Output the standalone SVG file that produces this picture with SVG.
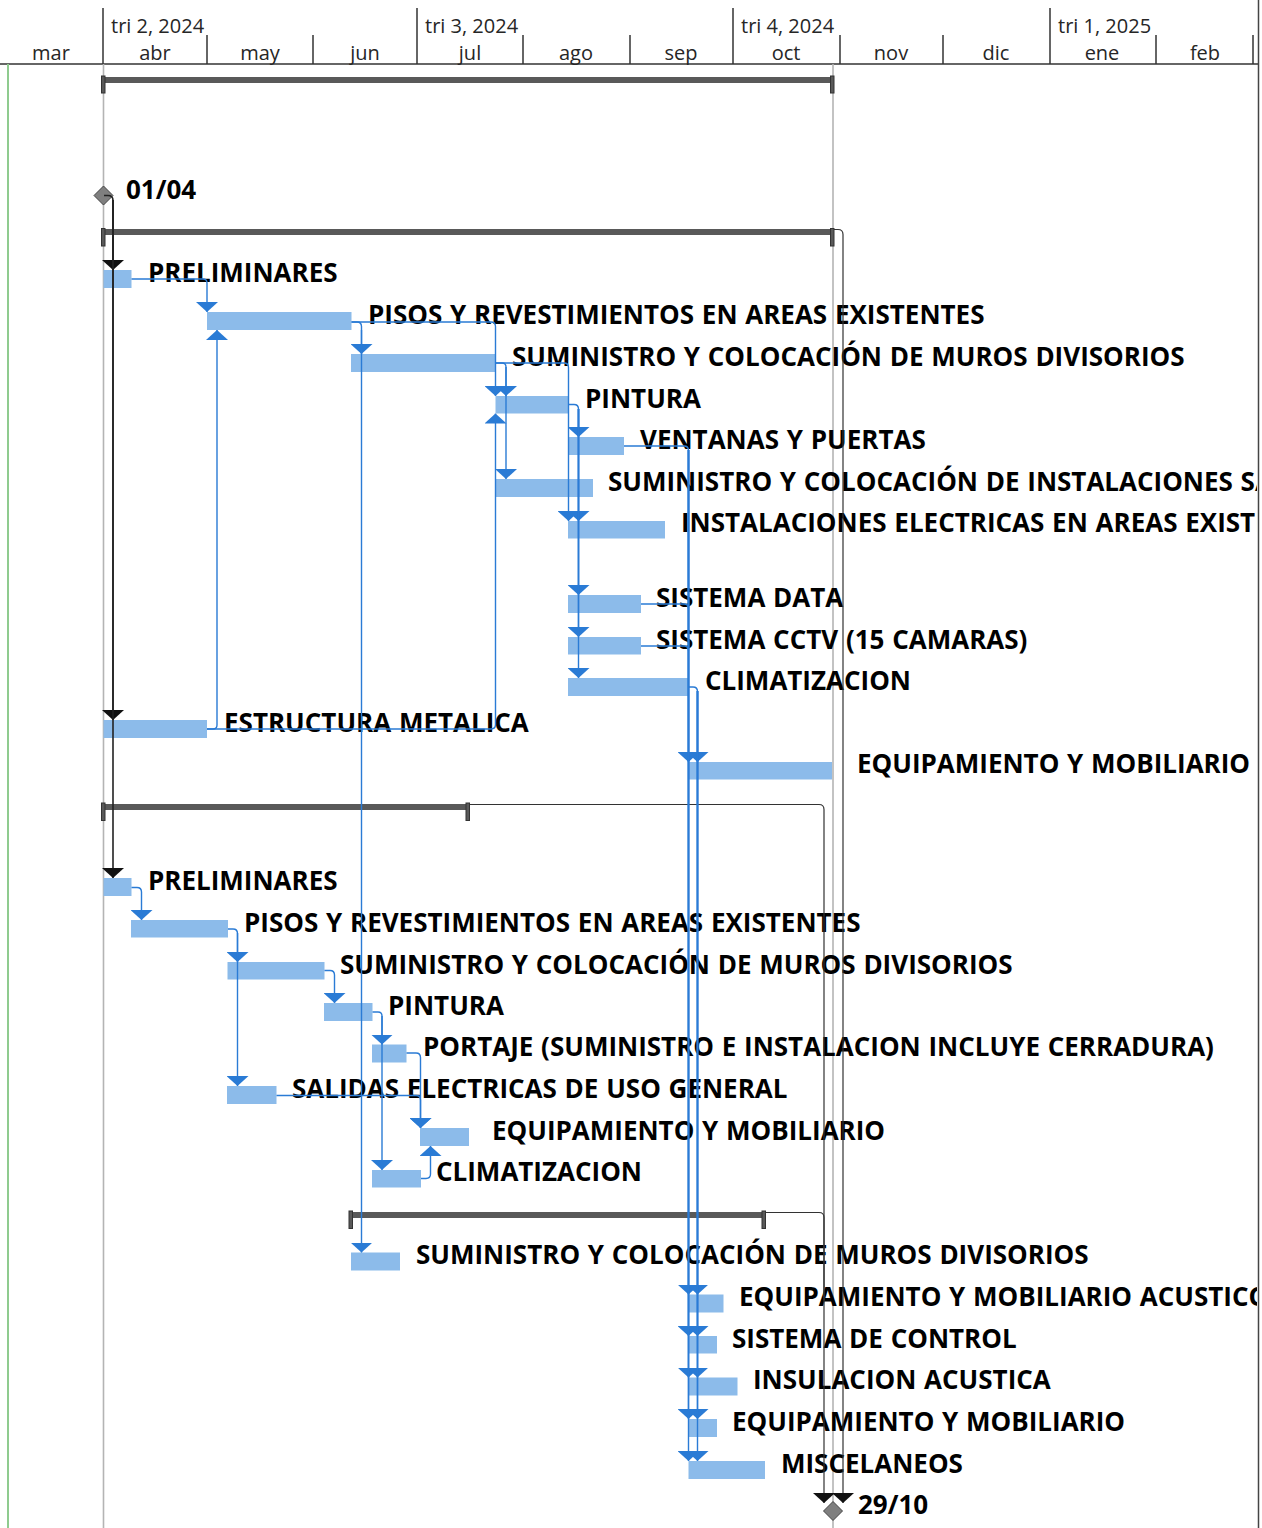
<svg xmlns="http://www.w3.org/2000/svg" width="1262" height="1528" viewBox="0 0 1262 1528">
<style>
.bar{fill:#8CBBEA}
.lbl{font-family:"Open Sans","Noto Sans",sans-serif;font-weight:700;font-size:26px;word-spacing:1px;fill:#000}
.hdr{font-family:"Open Sans","Noto Sans",sans-serif;font-weight:400;font-size:20px;fill:#262626}
.mon{text-anchor:middle}
.cb{fill:none;stroke:#2A7BD5;stroke-width:1.4;marker-end:url(#ab)}
.cn{fill:none;stroke:#2A7BD5;stroke-width:1.4}
.ck{fill:none;stroke:#222;stroke-width:1.6;marker-end:url(#ak)}
.cs{fill:none;stroke:#333;stroke-width:1.2;marker-end:url(#ak)}
.csn{fill:none;stroke:#333;stroke-width:1.2}
.sum{fill:#595959}
.cap{fill:#595959;stroke:#333;stroke-width:1}
.grid{stroke:#333;stroke-width:1.5}
.vg{stroke:#b4b4b4;stroke-width:1.6}
.ms{fill:#7f7f7f;stroke:#444;stroke-width:1}
</style>
<defs>
<marker id="ab" markerUnits="userSpaceOnUse" viewBox="0 -11 10 22" refX="10" refY="0" markerWidth="10" markerHeight="22" orient="auto"><path d="M0,-11 L10,0 L0,11 Z" fill="#2A7BD5"/></marker>
<marker id="ak" markerUnits="userSpaceOnUse" viewBox="0 -11 10 22" refX="10" refY="0" markerWidth="10" markerHeight="22" orient="auto"><path d="M0,-11 L10,0 L0,11 Z" fill="#111"/></marker>
<clipPath id="clip"><rect x="0" y="0" width="1257" height="1528"/></clipPath>
</defs>
<rect width="1262" height="1528" fill="#fff"/>
<g id="timescale">
<line class="grid" x1="0" y1="64" x2="1258" y2="64"/>
<line class="grid" x1="103" y1="8" x2="103" y2="64"/>
<line class="grid" x1="417" y1="8" x2="417" y2="64"/>
<line class="grid" x1="733" y1="8" x2="733" y2="64"/>
<line class="grid" x1="1050" y1="8" x2="1050" y2="64"/>
<line class="grid" x1="207" y1="35" x2="207" y2="64"/>
<line class="grid" x1="313" y1="35" x2="313" y2="64"/>
<line class="grid" x1="523" y1="35" x2="523" y2="64"/>
<line class="grid" x1="630" y1="35" x2="630" y2="64"/>
<line class="grid" x1="840" y1="35" x2="840" y2="64"/>
<line class="grid" x1="943" y1="35" x2="943" y2="64"/>
<line class="grid" x1="1156" y1="35" x2="1156" y2="64"/>
<line class="grid" x1="1253" y1="35" x2="1253" y2="64"/>
<line x1="1258.5" y1="0" x2="1258.5" y2="1528" stroke="#444" stroke-width="1.5"/>
<text class="hdr" x="111" y="33">tri 2, 2024</text>
<text class="hdr" x="425" y="33">tri 3, 2024</text>
<text class="hdr" x="741" y="33">tri 4, 2024</text>
<text class="hdr" x="1058" y="33">tri 1, 2025</text>
<text class="hdr mon" x="51" y="60">mar</text>
<text class="hdr mon" x="155" y="60">abr</text>
<text class="hdr mon" x="260" y="60">may</text>
<text class="hdr mon" x="365" y="60">jun</text>
<text class="hdr mon" x="470" y="60">jul</text>
<text class="hdr mon" x="576" y="60">ago</text>
<text class="hdr mon" x="681" y="60">sep</text>
<text class="hdr mon" x="786" y="60">oct</text>
<text class="hdr mon" x="891" y="60">nov</text>
<text class="hdr mon" x="996" y="60">dic</text>
<text class="hdr mon" x="1102" y="60">ene</text>
<text class="hdr mon" x="1205" y="60">feb</text>
</g>
<g id="guides">
<line x1="8" y1="64" x2="8" y2="1528" stroke="#8FCB8F" stroke-width="2"/>
<line class="vg" x1="103.5" y1="64" x2="103.5" y2="1528"/>
<line class="vg" x1="833" y1="64" x2="833" y2="1528"/>
</g>
<g clip-path="url(#clip)">
<g id="project-summary"><rect class="sum" x="103" y="77" width="730" height="6"/><rect class="cap" x="101.5" y="76" width="3.5" height="17"/><rect class="cap" x="830.5" y="76" width="3.5" height="17"/></g>
<g id="ms-start"><path class="ms" d="M103.5,186 L113,195.5 L103.5,205 L94,195.5 Z"/><text class="lbl" x="126" y="199">01/04</text></g>
<g id="summary-1"><rect class="sum" x="103" y="229" width="730" height="6"/><rect class="cap" x="101.5" y="228.5" width="3.5" height="17.5"/><rect class="cap" x="830.5" y="228.5" width="3.5" height="17.5"/></g>
<g id="t1"><rect class="bar" x="103.5" y="270" width="28" height="18"/><text class="lbl" x="148" y="282">PRELIMINARES</text></g>
<g id="t2"><rect class="bar" x="207" y="312" width="144.5" height="18"/><text class="lbl" x="368" y="324">PISOS Y REVESTIMIENTOS EN AREAS EXISTENTES</text></g>
<g id="t3"><rect class="bar" x="351" y="354" width="144.5" height="18"/><text class="lbl" x="512" y="366">SUMINISTRO Y COLOCACIÓN DE MUROS DIVISORIOS</text></g>
<g id="t4"><rect class="bar" x="495.5" y="396" width="73" height="17.5"/><text class="lbl" x="585" y="408">PINTURA</text></g>
<g id="t5"><rect class="bar" x="568" y="437" width="56" height="18"/><text class="lbl" x="640" y="449">VENTANAS Y PUERTAS</text></g>
<g id="t6"><rect class="bar" x="495.5" y="479" width="97.5" height="18"/><text class="lbl" x="608" y="491">SUMINISTRO Y COLOCACIÓN DE INSTALACIONES SA</text></g>
<g id="t7"><rect class="bar" x="568" y="521" width="97" height="17.5"/><text class="lbl" x="681" y="532">INSTALACIONES ELECTRICAS EN AREAS EXISTI</text></g>
<g id="t8"><rect class="bar" x="568" y="595" width="73" height="18"/><text class="lbl" x="656" y="607">SISTEMA DATA</text></g>
<g id="t9"><rect class="bar" x="568" y="637" width="73" height="17.5"/><text class="lbl" x="656" y="649">SISTEMA CCTV (15 CAMARAS)</text></g>
<g id="t10"><rect class="bar" x="568" y="678" width="120.5" height="18"/><text class="lbl" x="705" y="690">CLIMATIZACION</text></g>
<g id="t11"><rect class="bar" x="103.5" y="720" width="103.5" height="18"/><text class="lbl" x="224" y="732">ESTRUCTURA METALICA</text></g>
<g id="t12"><rect class="bar" x="688.5" y="762" width="143.5" height="17.5"/><text class="lbl" x="857" y="773">EQUIPAMIENTO Y MOBILIARIO</text></g>
<g id="summary-2"><rect class="sum" x="103" y="804" width="365" height="6"/><rect class="cap" x="101.5" y="803" width="3.5" height="17.5"/><rect class="cap" x="466" y="803" width="3.5" height="17.5"/></g>
<g id="t13"><rect class="bar" x="103.5" y="878" width="28" height="18"/><text class="lbl" x="148" y="890">PRELIMINARES</text></g>
<g id="t14"><rect class="bar" x="131" y="920" width="97" height="17.5"/><text class="lbl" x="244" y="932">PISOS Y REVESTIMIENTOS EN AREAS EXISTENTES</text></g>
<g id="t15"><rect class="bar" x="227.5" y="962" width="97" height="17.5"/><text class="lbl" x="340" y="974">SUMINISTRO Y COLOCACIÓN DE MUROS DIVISORIOS</text></g>
<g id="t16"><rect class="bar" x="324" y="1003" width="48.5" height="18"/><text class="lbl" x="388" y="1015">PINTURA</text></g>
<g id="t17"><rect class="bar" x="372" y="1044.5" width="34.5" height="18"/><text class="lbl" x="423" y="1056">PORTAJE (SUMINISTRO E INSTALACION INCLUYE CERRADURA)</text></g>
<g id="t18"><rect class="bar" x="227" y="1086" width="49.5" height="18"/><text class="lbl" x="292" y="1098">SALIDAS ELECTRICAS DE USO GENERAL</text></g>
<g id="t19"><rect class="bar" x="420" y="1128" width="49" height="18"/><text class="lbl" x="492" y="1140">EQUIPAMIENTO Y MOBILIARIO</text></g>
<g id="t20"><rect class="bar" x="372" y="1170" width="49" height="17.5"/><text class="lbl" x="436" y="1181">CLIMATIZACION</text></g>
<g id="summary-3"><rect class="sum" x="350" y="1212" width="414" height="6"/><rect class="cap" x="349" y="1211" width="3.5" height="17.5"/><rect class="cap" x="762" y="1211" width="3.5" height="17.5"/></g>
<g id="t21"><rect class="bar" x="351" y="1252.5" width="49" height="18"/><text class="lbl" x="416" y="1264">SUMINISTRO Y COLOCACIÓN DE MUROS DIVISORIOS</text></g>
<g id="t22"><rect class="bar" x="689" y="1294.5" width="34.5" height="18"/><text class="lbl" x="739" y="1306">EQUIPAMIENTO Y MOBILIARIO ACUSTICO</text></g>
<g id="t23"><rect class="bar" x="688.5" y="1336" width="28.5" height="17.5"/><text class="lbl" x="732" y="1348">SISTEMA DE CONTROL</text></g>
<g id="t24"><rect class="bar" x="688.5" y="1377.5" width="49" height="18"/><text class="lbl" x="753" y="1389">INSULACION ACUSTICA</text></g>
<g id="t25"><rect class="bar" x="688.5" y="1419" width="28.5" height="18"/><text class="lbl" x="732" y="1431">EQUIPAMIENTO Y MOBILIARIO</text></g>
<g id="t26"><rect class="bar" x="688.5" y="1461" width="76.5" height="18"/><text class="lbl" x="781" y="1473">MISCELANEOS</text></g>
<g id="ms-end"><path class="ms" d="M833,1501.5 L842.5,1511 L833,1520.5 L823.5,1511 Z"/><text class="lbl" x="858" y="1514">29/10</text></g>
</g>
<g id="connectors">
<path class="ck" d="M104,195.5 H108 Q113,195.5 113,200.5 V270"/>
<path class="ck" d="M113,200 V720"/>
<path class="ck" d="M113,200 V878"/>
<path class="cs" d="M834,229.5 H838 Q843,229.5 843,234.5 V1503"/>
<path class="cs" d="M469,804.5 H819 Q824,804.5 824,809.5 V1503"/>
<path class="csn" d="M766,1212.5 H819 Q824,1212.5 824,1217.5 V1300"/>
<path class="cb" d="M131.5,279 H203 Q207,279 207,283 V312"/>
<path class="cb" d="M207,729 H213 Q217,729 217,725 V330"/>
<path class="cb" d="M207,729 H491 Q495.5,729 495.5,724.5 V413.5"/>
<path class="cb" d="M351.5,322 H491 Q495.5,322 495.5,326.5 V396"/>
<path class="cb" d="M351.5,322 H357 Q361.5,322 361.5,326.5 V354"/>
<path class="cb" d="M361.5,330 V1252.5"/>
<path class="cb" d="M495.5,363 H502 Q506,363 506,367 V396"/>
<path class="cb" d="M506,367 V479"/>
<path class="cb" d="M495.5,363 H564 Q568.5,363 568.5,367.5 V521"/>
<path class="cb" d="M568.5,404.5 H574 Q578.5,404.5 578.5,409 V437"/>
<path class="cb" d="M578.5,409 V521"/>
<path class="cb" d="M578.5,409 V595"/>
<path class="cb" d="M578.5,409 V637"/>
<path class="cb" d="M578.5,409 V678"/>
<path class="cb" d="M624,446 H684 Q688.5,446 688.5,450.5 V762"/>
<path class="cn" d="M641,604 H684 Q688.5,604 688.5,608.5"/>
<path class="cn" d="M641,646 H684 Q688.5,646 688.5,650.5"/>
<path class="cb" d="M688.5,687 H693 Q697.5,687 697.5,691.5 V762"/>
<path class="cb" d="M688.5,450 V1294.5"/>
<path class="cb" d="M688.5,450 V1336"/>
<path class="cb" d="M688.5,450 V1377.5"/>
<path class="cb" d="M688.5,450 V1419"/>
<path class="cb" d="M688.5,450 V1461"/>
<path class="cb" d="M697.5,691 V1294.5"/>
<path class="cb" d="M697.5,691 V1336"/>
<path class="cb" d="M697.5,691 V1377.5"/>
<path class="cb" d="M697.5,691 V1419"/>
<path class="cb" d="M697.5,691 V1461"/>
<path class="cb" d="M131.5,887.5 H137 Q141.5,887.5 141.5,892 V920"/>
<path class="cb" d="M228,929 H233 Q237.5,929 237.5,933.5 V962"/>
<path class="cb" d="M237.5,933 V1086"/>
<path class="cb" d="M324.5,970.5 H330 Q334.5,970.5 334.5,975 V1003"/>
<path class="cb" d="M372.5,1012 H378 Q382,1012 382,1016 V1044.5"/>
<path class="cb" d="M382,1016 V1170"/>
<path class="cb" d="M406.5,1053 H416 Q420.5,1053 420.5,1057.5 V1128"/>
<path class="cb" d="M276.5,1095.5 H416 Q420.5,1095.5 420.5,1100 V1128"/>
<path class="cb" d="M421,1178.5 H426 Q430.5,1178.5 430.5,1174 V1146"/>
</g>
</svg>
